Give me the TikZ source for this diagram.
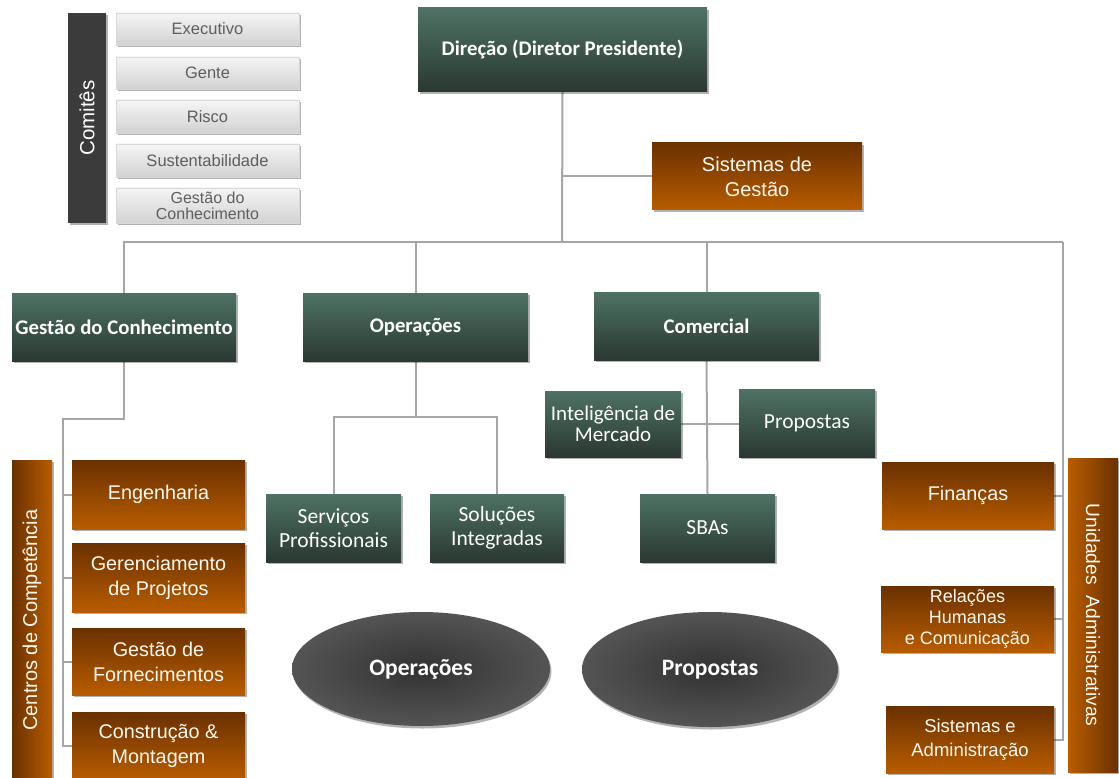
\documentclass[tikz,border=0pt]{standalone}
\usepackage{fontspec}
\setmainfont{Liberation Sans}
\newfontfamily\carlito{Carlito}
\usetikzlibrary{shadows,shapes.geometric,backgrounds}

\definecolor{grtop}{HTML}{4E7264}
\definecolor{grbot}{HTML}{2A3831}
\definecolor{ortop}{HTML}{6A3100}
\definecolor{orbot}{HTML}{B85C00}
\definecolor{conn}{HTML}{A6A6A6}
\definecolor{cmtop}{HTML}{F5F5F5}
\definecolor{cmbot}{HTML}{D2D2D2}
\definecolor{cmtext}{HTML}{5E5E5E}
\definecolor{bar}{HTML}{3B3B3B}
\definecolor{ovin}{HTML}{323232}
\definecolor{ovout}{HTML}{545454}

\tikzset{
  box/.style={inner sep=2pt, outer sep=0pt, align=center,
    drop shadow={shadow xshift=1.5pt, shadow yshift=-2pt, opacity=.3, fill=black}},
  greenbox/.style={box, top color=grtop, bottom color=grbot, text=white,
    font=\carlito\fontsize{21.5}{24}\selectfont},
  greenhead/.style={greenbox, font=\carlito\bfseries\fontsize{20.8}{24}\selectfont},
  orangebox/.style={box, top color=ortop, bottom color=orbot, text=white!95!orange,
    font=\fontsize{19.8}{25}\selectfont},
  cmtbox/.style={box, draw=black!15, top color=cmtop, bottom color=cmbot, text=cmtext,
    minimum width=183, font=\fontsize{16.5}{19}\selectfont},
  oval/.style={ellipse, inner sep=0pt, outer sep=0pt, inner color=ovin, outer color=ovout,
    text=white, font=\carlito\bfseries\fontsize{23.5}{26}\selectfont,
    drop shadow={shadow xshift=1.5pt, shadow yshift=-2.5pt, opacity=.3, fill=black}},
  link/.style={draw=conn, line width=2pt},
}

\begin{document}
\begin{tikzpicture}[x=1pt, y=-1pt]
\useasboundingbox (0,0) rectangle (1119,778);

% ---------- committees ----------
\node[box, fill=bar, text=white, rotate=90, minimum width=210, minimum height=38,
      font=\fontsize{20.5}{22}\selectfont] (comites) at (87,118) {Comitês};
\node[cmtbox, minimum height=32] (exe) at (207.5,29)   {Executivo};
\node[cmtbox, minimum height=32] (gen) at (207.5,73)   {Gente};
\node[cmtbox, minimum height=33] (ris) at (207.5,116.5) {Risco};
\node[cmtbox, minimum height=33] (sus) at (207.5,160.5) {Sustentabilidade};
\node[cmtbox, minimum height=35, font=\fontsize{16}{18}\selectfont] (gdc) at (207.5,205.5) {Gestão do\\[-2pt]Conhecimento};

% ---------- top of the chart ----------
\node[greenhead, minimum width=289, minimum height=84] (dir) at (562.5,50) {Direção (Diretor Presidente)};
\node[orangebox, minimum width=210, minimum height=67, font=\fontsize{20}{25}\selectfont]
      (sg) at (757,176.5) {Sistemas de\\Gestão};

\node[greenhead, minimum width=224, minimum height=68] (gc)  at (124,327)   {Gestão do Conhecimento};
\node[greenhead, minimum width=225, minimum height=68] (ops) at (415.5,327) {Operações};
\node[greenhead, minimum width=225, minimum height=68] (com) at (706.5,326) {Comercial};

% ---------- operations ----------
\node[greenbox, minimum width=135, minimum height=68] (serv) at (333.5,528) {Serviços\\Profissionais};
\node[greenbox, minimum width=134, minimum height=68] (sol)  at (497,528)   {Soluções\\Integradas};

% ---------- commercial ----------
\node[greenbox, minimum width=136, minimum height=66, font=\carlito\fontsize{21}{21}\selectfont]
      (intel) at (613,424) {Inteligência de\\Mercado};
\node[greenbox, minimum width=136, minimum height=68] (prop) at (807,423)   {Propostas};
\node[greenbox, minimum width=135, minimum height=68] (sba)  at (707.5,528) {SBAs};

% ---------- competence centres ----------
\node[box, left color=ortop, right color=orbot, rotate=90, minimum width=320, minimum height=40,
      text=white!95!orange, font=\fontsize{20}{22}\selectfont] (cc) at (32,620) {Centros de Competência};
\node[orangebox, minimum width=173, minimum height=69] (eng) at (158.5,494.5) {Engenharia};
\node[orangebox, minimum width=173, minimum height=69] (ger) at (158.5,577.5) {Gerenciamento\\de Projetos};
\node[orangebox, minimum width=173, minimum height=67] (gf)  at (158.5,661.5) {Gestão de\\Fornecimentos};
\node[orangebox, minimum width=173, minimum height=68] (cm)  at (158.5,746)   {Construção \&\\Montagem};

% ---------- administrative units ----------
\node[orangebox, minimum width=172, minimum height=67] (fin) at (968,495.5) {Finanças};
\node[orangebox, minimum width=173, minimum height=66, font=\fontsize{18}{21}\selectfont]
      (rh) at (967.5,619) {Relações\\Humanas\\e Comunicação};
\node[orangebox, minimum width=168, minimum height=67, font=\fontsize{18.5}{24}\selectfont]
      (sa) at (970,739.5) {Sistemas e\\Administração};
\node[box, left color=orbot, right color=ortop, rotate=-90, minimum width=314, minimum height=50,
      text=white!95!orange, font=\fontsize{19.3}{22}\selectfont] (ua) at (1093,615)
      {\raisebox{0pt}{Unidades\ \ Administrativas}};

% ---------- ovals ----------
\node[oval, minimum width=258, minimum height=114] (eop)   at (421,669)   {Operações};
\node[oval, minimum width=256, minimum height=115] (eprop) at (710,669.5) {Propostas};

% ---------- junction points ----------
\coordinate (hub) at (562,242);
\coordinate (rt)  at (1063,242);
\coordinate (opj) at (415.5,417);
\coordinate (gcj) at (63,419);

% ---------- connectors ----------
\begin{scope}[on background layer]
\draw[link] (dir.south) -- (hub);
\draw[link] (dir.south |- sg.west) -- (sg.west);
\draw[link] (gc.north) |- (rt);
\draw[link] (ops.north) -- (ops.north |- hub);
\draw[link] (com.north) -- (com.north |- hub);
\draw[link] (rt) |- (sa.east);
\draw[link] (fin.east) -- (fin.east -| rt);
\draw[link] (rh.east) -- (rh.east -| rt);

\draw[link] (ops.south) -- (opj);
\draw[link] (serv.north) |- (opj) -| (sol.north);

\draw[link] (com.south) -- (sba.north);
\draw[link] (intel.east) -- (intel.east -| prop.west);

\draw[link] (gc.south) |- (gcj) |- (cm.west);
\draw[link] (eng.west -| gcj) -- (eng.west);
\draw[link] (ger.west -| gcj) -- (ger.west);
\draw[link] (gf.west -| gcj) -- (gf.west);
\end{scope}
\end{tikzpicture}
\end{document}
